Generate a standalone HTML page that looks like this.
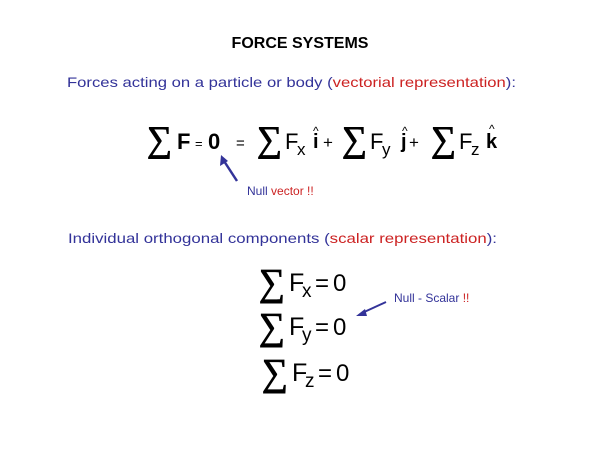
<!DOCTYPE html>
<html><head><meta charset="utf-8"><style>
html,body{margin:0;padding:0;background:#fff;width:600px;height:450px;overflow:hidden}
svg text{font-family:"Liberation Sans",Arial,sans-serif}
.sg{font-family:"Liberation Serif",serif;stroke:#000;stroke-width:0.9}
</style></head><body>
<svg width="600" height="450" viewBox="0 0 600 450" xmlns="http://www.w3.org/2000/svg">
<text x="300" y="48" text-anchor="middle" font-size="16" font-weight="bold" fill="#000">FORCE SYSTEMS</text>
<text x="67" y="87" font-size="14" fill="#333399" textLength="449" lengthAdjust="spacingAndGlyphs">Forces acting on a particle or body (<tspan fill="#cc2222">vectorial representation</tspan>):</text>

<g fill="#000">
<text class="sg" x="147" y="151" font-size="36" textLength="25" lengthAdjust="spacingAndGlyphs">∑</text>
<text x="177" y="149" font-size="22" font-weight="bold">F</text>
<text x="195" y="148" font-size="13">=</text>
<text x="208" y="149" font-size="22" font-weight="bold">0</text>
<text x="236" y="148" font-size="15">=</text>
<text class="sg" x="257" y="151" font-size="36" textLength="25" lengthAdjust="spacingAndGlyphs">∑</text>
<text x="285" y="149" font-size="22">F</text>
<text x="297" y="155" font-size="17">x</text>
<text x="313" y="148" font-size="20" font-weight="bold">i</text>
<text x="313" y="135" font-size="12">^</text>
<text x="323" y="148" font-size="17">+</text>
<text class="sg" x="342" y="151" font-size="36" textLength="25" lengthAdjust="spacingAndGlyphs">∑</text>
<text x="370" y="149" font-size="22">F</text>
<text x="382" y="155" font-size="17">y</text>
<text x="401" y="148" font-size="20" font-weight="bold">j</text>
<text x="402" y="135" font-size="12">^</text>
<text x="409" y="148" font-size="17">+</text>
<text class="sg" x="431" y="151" font-size="36" textLength="25" lengthAdjust="spacingAndGlyphs">∑</text>
<text x="459" y="149" font-size="22">F</text>
<text x="471" y="155" font-size="17">z</text>
<text x="486" y="148" font-size="20" font-weight="bold">k</text>
<text x="489" y="133" font-size="12">^</text>
</g>

<line x1="237" y1="181" x2="224" y2="161" stroke="#333399" stroke-width="2.5"/>
<polygon points="221,155 220,166 228,161" fill="#333399"/>
<text x="247" y="195" font-size="12" fill="#333399">Null <tspan fill="#cc2222">vector !!</tspan></text>

<text x="68" y="243" font-size="14" fill="#333399" textLength="429" lengthAdjust="spacingAndGlyphs">Individual orthogonal components (<tspan fill="#cc2222">scalar representation</tspan>):</text>

<g fill="#000">
<text class="sg" x="259" y="295" font-size="38" textLength="26" lengthAdjust="spacingAndGlyphs">∑</text>
<text x="289" y="291" font-size="25">F</text>
<text x="302" y="297" font-size="19">x</text>
<text x="315" y="291" font-size="24">=</text>
<text x="333" y="291" font-size="24">0</text>

<text class="sg" x="259" y="339" font-size="38" textLength="26" lengthAdjust="spacingAndGlyphs">∑</text>
<text x="289" y="335" font-size="25">F</text>
<text x="302" y="341" font-size="19">y</text>
<text x="315" y="335" font-size="24">=</text>
<text x="333" y="335" font-size="24">0</text>

<text class="sg" x="262" y="385" font-size="38" textLength="26" lengthAdjust="spacingAndGlyphs">∑</text>
<text x="292" y="381" font-size="25">F</text>
<text x="305" y="387" font-size="19">z</text>
<text x="318" y="381" font-size="24">=</text>
<text x="336" y="381" font-size="24">0</text>
</g>

<line x1="386" y1="302" x2="362" y2="313" stroke="#333399" stroke-width="2"/>
<polygon points="356,316 365,309 367,316" fill="#333399"/>
<text x="394" y="302" font-size="12" fill="#333399">Null - Scalar <tspan fill="#cc2222">!!</tspan></text>
</svg>
</body></html>
